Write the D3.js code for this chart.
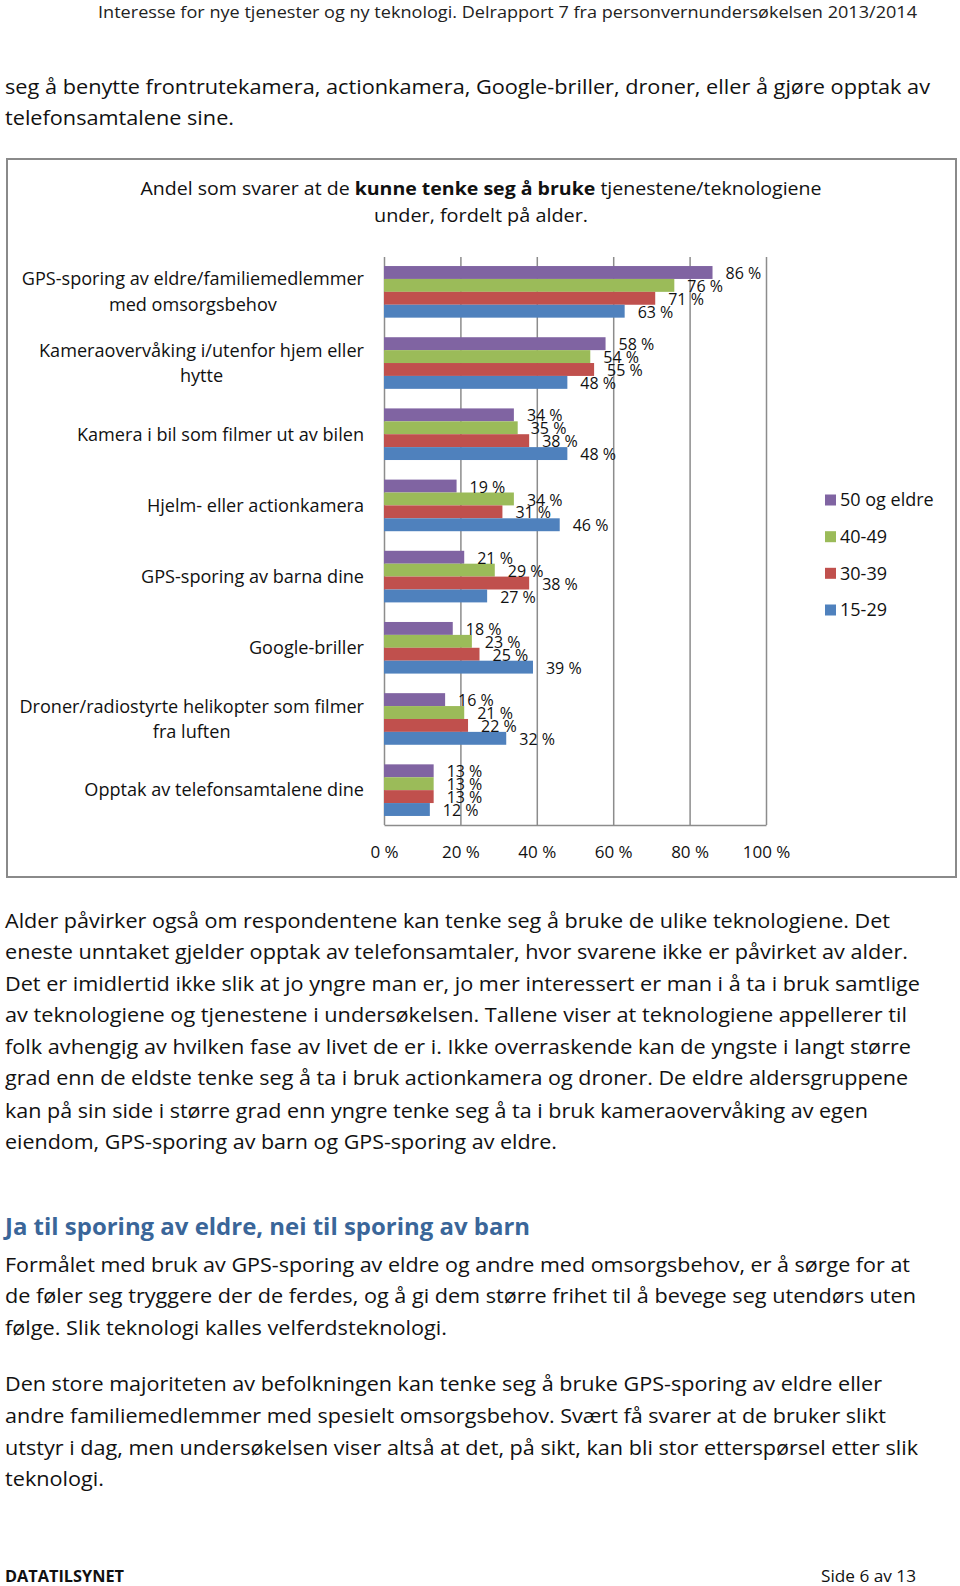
<!DOCTYPE html>
<html><head><meta charset="utf-8">
<script src="https://cdn.jsdelivr.net/npm/d3@7"></script>
<style>
html,body{margin:0;padding:0;background:#fff;}
svg{display:block;}
text{font-family:"Open Sans","DejaVu Sans",sans-serif;}
</style>
</head><body>
<svg id="page" width="960" height="1586"></svg>
<script>
// ---- chart data ----
const categories = [
  "GPS-sporing av eldre/familiemedlemmer med omsorgsbehov",
  "Kameraovervåking i/utenfor hjem eller hytte",
  "Kamera i bil som filmer ut av bilen",
  "Hjelm- eller actionkamera",
  "GPS-sporing av barna dine",
  "Google-briller",
  "Droner/radiostyrte helikopter som filmer fra luften",
  "Opptak av telefonsamtalene dine"
];
const categoryLines = [
  ["GPS-sporing av eldre/familiemedlemmer", "med omsorgsbehov"],
  ["Kameraovervåking i/utenfor hjem eller", "hytte"],
  ["Kamera i bil som filmer ut av bilen"],
  ["Hjelm- eller actionkamera"],
  ["GPS-sporing av barna dine"],
  ["Google-briller"],
  ["Droner/radiostyrte helikopter som filmer", "fra luften"],
  ["Opptak av telefonsamtalene dine"]
];
const seriesNames = ["50 og eldre", "40-49", "30-39", "15-29"];
const seriesColors = ["#8064A2", "#9BBB59", "#C0504D", "#4F81BD"];
const age50plus = [86, 58, 34, 19, 21, 18, 16, 13];
const age40_49  = [76, 54, 35, 34, 29, 23, 21, 13];
const age30_39  = [71, 55, 38, 31, 38, 25, 22, 13];
const age15_29  = [63, 48, 48, 46, 27, 39, 32, 12];
const xTickValues = [0, 20, 40, 60, 80, 100];
const xTickLabels = ["0 %", "20 %", "40 %", "60 %", "80 %", "100 %"];

const seriesValues = [age50plus, age40_49, age30_39, age15_29];

// ---- page text ----
const headerText = "Interesse for nye tjenester og ny teknologi. Delrapport 7 fra personvernundersøkelsen 2013/2014";
const introLines = [
  "seg å benytte frontrutekamera, actionkamera, Google-briller, droner, eller å gjøre opptak av",
  "telefonsamtalene sine."
];
const para1 = [
  "Alder påvirker også om respondentene kan tenke seg å bruke de ulike teknologiene. Det",
  "eneste unntaket gjelder opptak av telefonsamtaler, hvor svarene ikke er påvirket av alder.",
  "Det er imidlertid ikke slik at jo yngre man er, jo mer interessert er man i å ta i bruk samtlige",
  "av teknologiene og tjenestene i undersøkelsen. Tallene viser at teknologiene appellerer til",
  "folk avhengig av hvilken fase av livet de er i. Ikke overraskende kan de yngste i langt større",
  "grad enn de eldste tenke seg å ta i bruk actionkamera og droner. De eldre aldersgruppene",
  "kan på sin side i større grad enn yngre tenke seg å ta i bruk kameraovervåking av egen",
  "eiendom, GPS-sporing av barn og GPS-sporing av eldre."
];
const headingText = "Ja til sporing av eldre, nei til sporing av barn";
const para2 = [
  "Formålet med bruk av GPS-sporing av eldre og andre med omsorgsbehov, er å sørge for at",
  "de føler seg tryggere der de ferdes, og å gi dem større frihet til å bevege seg utendørs uten",
  "følge. Slik teknologi kalles velferdsteknologi."
];
const para3 = [
  "Den store majoriteten av befolkningen kan tenke seg å bruke GPS-sporing av eldre eller",
  "andre familiemedlemmer med spesielt omsorgsbehov. Svært få svarer at de bruker slikt",
  "utstyr i dag, men undersøkelsen viser altså at det, på sikt, kan bli stor etterspørsel etter slik",
  "teknologi."
];

const svg = d3.select("#page");
svg.append("rect").attr("width", 960).attr("height", 1586).attr("fill", "#fff");

function textLine(txt, x, y, size, width, opts = {}) {
  const t = svg.append("text")
    .attr("x", x).attr("y", y).attr("dy", "0.35em")
    .attr("font-size", size)
    .attr("fill", opts.fill || "#111")
    .attr("font-weight", opts.weight || 400)
    .attr("text-anchor", opts.anchor || "start")
    .text(txt);
  if (width) t.attr("textLength", width).attr("lengthAdjust", "spacingAndGlyphs");
  return t;
}

// header
textLine(headerText, 98, 12, 17, 819, {fill: "#222"});

// intro
const introY = [87, 118], introW = [925, 229];
introLines.forEach((l, i) => textLine(l, 5, introY[i], 20, introW[i]));

// chart box
svg.append("rect").attr("x", 7).attr("y", 159).attr("width", 949).attr("height", 718)
  .attr("fill", "none").attr("stroke", "#8a8a8a").attr("stroke-width", 2);

// chart title
const title = svg.append("text").attr("x", 481).attr("y", 189).attr("dy", "0.35em")
  .attr("text-anchor", "middle").attr("font-size", 18).attr("fill", "#111")
  .attr("textLength", 681).attr("lengthAdjust", "spacingAndGlyphs");
title.append("tspan").text("Andel som svarer at de ");
title.append("tspan").attr("font-weight", 700).text("kunne tenke seg å bruke");
title.append("tspan").text(" tjenestene/teknologiene");
textLine("under, fordelt på alder.", 481, 216, 18, 214, {anchor: "middle"});

// scales
const x = d3.scaleLinear().domain([0, 100]).range([384, 766]);
const y = d3.scaleBand().domain(categories).range([257, 825]).paddingInner(0.275).paddingOuter(0.127);
const ySub = d3.scaleBand().domain(seriesNames).range([0, y.bandwidth()]);
const color = d3.scaleOrdinal().domain(seriesNames).range(seriesColors);

// gridlines + axis
const plotH = 825 - 257;
const axis = d3.axisBottom(x).tickValues(xTickValues)
  .tickFormat((d, i) => xTickLabels[i]).tickSizeInner(-plotH).tickSizeOuter(0);
const gAxis = svg.append("g").attr("transform", "translate(0,825)").call(axis);
gAxis.select(".domain").attr("stroke", "#8c8c8c").attr("stroke-width", 1.5);
gAxis.selectAll(".tick line").attr("stroke", "#8c8c8c").attr("stroke-width", 1.5);
gAxis.selectAll(".tick text").attr("y", 27).attr("dy", "0.35em")
  .attr("font-size", 17).attr("fill", "#111").attr("font-family", "Open Sans");

// bars
const rows = [];
categories.forEach((c, ci) => seriesNames.forEach((s, si) =>
  rows.push({cat: c, ser: s, v: seriesValues[si][ci]})));

svg.append("g").selectAll("rect").data(rows).join("rect")
  .attr("x", x(0))
  .attr("y", d => y(d.cat) + ySub(d.ser))
  .attr("width", d => x(d.v) - x(0))
  .attr("height", ySub.bandwidth())
  .attr("fill", d => color(d.ser));

// data labels
svg.append("g").selectAll("text").data(rows).join("text")
  .attr("x", d => x(d.v) + 13)
  .attr("y", d => y(d.cat) + ySub(d.ser) + ySub.bandwidth() / 2 + 1)
  .attr("dy", "0.35em")
  .attr("font-size", 16).attr("fill", "#111")
  .text(d => d.v + " %");

// category labels
const catSize = 18.1;
categories.forEach((c, ci) => {
  const lines = categoryLines[ci];
  const cy = y(c) + y.bandwidth() / 2;
  const lh = 25.5;
  if (lines.length === 1) {
    textLine(lines[0], 364, cy, catSize, null, {anchor: "end"});
  } else {
    const t0 = textLine(lines[0], 364, cy - lh / 2, catSize, null, {anchor: "end"});
    const w = t0.node().getComputedTextLength();
    textLine(lines[1], 364 - w / 2, cy + lh / 2, catSize, null, {anchor: "middle"});
  }
});

// legend
const legY = [500, 536.7, 573.3, 610];
seriesNames.forEach((s, i) => {
  svg.append("rect").attr("x", 825).attr("y", legY[i] - 5.5).attr("width", 11).attr("height", 11)
    .attr("fill", color(s));
  textLine(s, 840, legY[i], 18, null);
});

// paragraph 1
const p1Y = [920.6, 952, 983.5, 1015, 1047, 1078.4, 1110.7, 1142];
const p1W = [885, 903, 915, 902, 906, 903, 863, 552];
para1.forEach((l, i) => textLine(l, 5, p1Y[i], 20, p1W[i]));

// heading
textLine(headingText, 5, 1227, 23, 525, {fill: "#3A6699", weight: 700});

// paragraph 2
const p2Y = [1264.6, 1296, 1328];
const p2W = [905, 911, 442];
para2.forEach((l, i) => textLine(l, 5, p2Y[i], 20, p2W[i]));

// paragraph 3
const p3Y = [1384, 1415.5, 1447.6, 1479];
const p3W = [877, 881, 913, 99];
para3.forEach((l, i) => textLine(l, 5, p3Y[i], 20, p3W[i]));

// footer
textLine("DATATILSYNET", 5, 1576, 16, 119, {weight: 700});
textLine("Side 6 av 13", 821, 1576, 16, 95);
</script>
</body></html>
